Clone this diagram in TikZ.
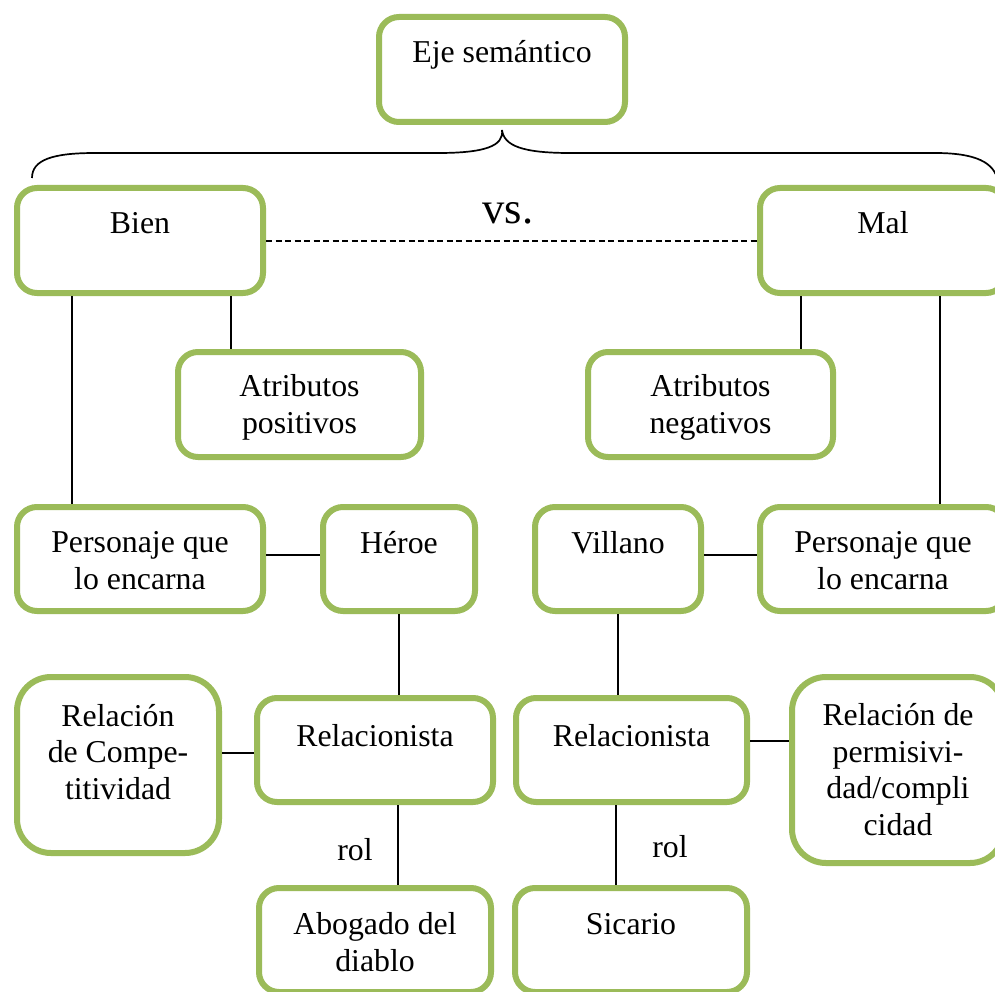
\documentclass[tikz,border=0pt]{standalone}
\usepackage{fontspec}
\setmainfont{Liberation Serif}
\definecolor{boxgreen}{HTML}{9BBB59}
\tikzset{
  gbox/.style={draw=boxgreen, line width=6pt, rounded corners=20pt, fill=white},
  tallbox/.style={gbox, rounded corners=34pt},
  lbl/.style={font=\fontsize{31.8}{36.5}\selectfont, align=center, anchor=base, inner sep=0pt},
  link/.style={draw=black, line width=1.7pt},
}
\begin{document}
\begin{tikzpicture}[x=1pt, y=-1pt]
\useasboundingbox (0,0) rectangle (995,992);
\clip (0,0) rectangle (995,992);
\fill[white] (0,0) rectangle (995,992);

% boxes
\node[gbox, minimum width=246pt, minimum height=105pt] (eje)   at (502,69.5) {};
\node[gbox, minimum width=246pt, minimum height=105pt] (bien)  at (140,240.5) {};
\node[gbox, minimum width=246pt, minimum height=105pt] (mal)   at (883,240.5) {};
\node[gbox, minimum width=243pt, minimum height=105pt] (atrP)  at (299.5,404.5) {};
\node[gbox, minimum width=245pt, minimum height=105pt] (atrN)  at (710.5,404.5) {};
\node[gbox, minimum width=246pt, minimum height=104pt] (perL)  at (140,559) {};
\node[gbox, minimum width=152pt, minimum height=104pt] (heroe) at (399,559) {};
\node[gbox, minimum width=166pt, minimum height=104pt] (vill)  at (618,559) {};
\node[gbox, minimum width=246pt, minimum height=104pt] (perR)  at (883,559) {};
\node[tallbox, minimum width=202pt, minimum height=176pt] (comp) at (118,765) {};
\node[gbox, minimum width=236pt, minimum height=104pt] (relL)  at (375,750) {};
\node[gbox, minimum width=231pt, minimum height=104pt] (relR)  at (631.5,750) {};
\node[tallbox, minimum width=212pt, minimum height=186pt] (perm) at (898,770) {};
\node[gbox, minimum width=232pt, minimum height=104pt] (abog)  at (375,940) {};
\node[gbox, minimum width=232pt, minimum height=104pt] (sic)   at (631,940) {};

% box texts (base anchor sits on the last line of each text)
\node[lbl] (tEje)   at ([yshift=-49pt]eje.north)   {Eje semántico};
\node[lbl] (tBien)  at ([yshift=-49pt]bien.north)  {Bien};
\node[lbl] (tMal)   at ([yshift=-49pt]mal.north)   {Mal};
\node[lbl] (tAtrP)  at ([yshift=-84pt]atrP.north)  {Atributos\\positivos};
\node[lbl] (tAtrN)  at ([yshift=-84pt]atrN.north)  {Atributos\\negativos};
\node[lbl] (tPerL)  at ([yshift=-85pt]perL.north)  {Personaje que\\lo encarna};
\node[lbl] (tHeroe) at ([yshift=-49pt]heroe.north) {Héroe};
\node[lbl] (tVill)  at ([yshift=-49pt]vill.north)  {Villano};
\node[lbl] (tPerR)  at ([yshift=-85pt]perR.north)  {Personaje que\\lo encarna};
\node[lbl] (tComp)  at ([yshift=-125pt]comp.north) {Relación\\de Compe-\\titividad};
\node[lbl] (tRelL)  at ([yshift=-51pt]relL.north)  {Relacionista};
\node[lbl] (tRelR)  at ([yshift=-51pt]relR.north)  {Relacionista};
\node[lbl] (tPerm)  at ([yshift=-161pt]perm.north) {Relación de\\permisivi-\\dad/compli\\cidad};
\node[lbl] (tAbog)  at ([yshift=-86pt]abog.north)  {Abogado del\\diablo};
\node[lbl] (tSic)   at ([yshift=-49pt]sic.north)   {Sicario};

% brace under the semantic axis
\coordinate (tip) at ([yshift=-5pt]eje.south);
\draw[link] (32,178) .. controls (32,160) and (52,153) .. (95,153)
  -- (438,153) .. controls (485,153) and (504,146) .. (tip)
  .. controls (504,146) and (523,153) .. (570,153)
  -- (935,153) .. controls (975,153) and (995,162) .. (998,182);

% opposition
\node[font=\fontsize{44.6}{50}\selectfont, anchor=base, inner sep=0pt] (vs) at (508,224) {vs.};
\draw[link, line width=2pt, dash pattern=on 6pt off 3.5pt] ([yshift=-1pt]bien.east) -- ([yshift=-1pt]mal.west);

% connectors
\coordinate (b1) at ([xshift=58pt]bien.south west);
\coordinate (b2) at ([xshift=217pt]bien.south west);
\coordinate (m1) at ([xshift=44pt]mal.south west);
\coordinate (m2) at ([xshift=183pt]mal.south west);
\draw[link] (b1) -- (b1 |- perL.north);
\draw[link] (b2) -- (b2 |- atrP.north);
\draw[link] (m1) -- (m1 |- atrN.north);
\draw[link] (m2) -- (m2 |- perR.north);
\draw[link] ([yshift=4pt]perL.east) -- ([yshift=4pt]heroe.west);
\draw[link] ([yshift=4pt]vill.east) -- ([yshift=4pt]perR.west);
\draw[link] (heroe.south) -- (heroe.south |- relL.north);
\draw[link] (vill.south) -- (vill.south |- relR.north);
\draw[link] ([yshift=-3pt]relL.west) -- ([yshift=-3pt]relL.west -| comp.east);
\draw[link] ([yshift=9pt]relR.east) -- ([yshift=9pt]relR.east -| perm.west);
\coordinate (r1) at ([xshift=23pt]relL.south);
\coordinate (r2) at ([xshift=-15.5pt]relR.south);
\draw[link] (r1) -- (r1 |- abog.north);
\draw[link] (r2) -- (r2 |- sic.north);

% role labels
\node[lbl] (rolL) at (355,860) {rol};
\node[lbl] (rolR) at (670,857) {rol};
\end{tikzpicture}
\end{document}
